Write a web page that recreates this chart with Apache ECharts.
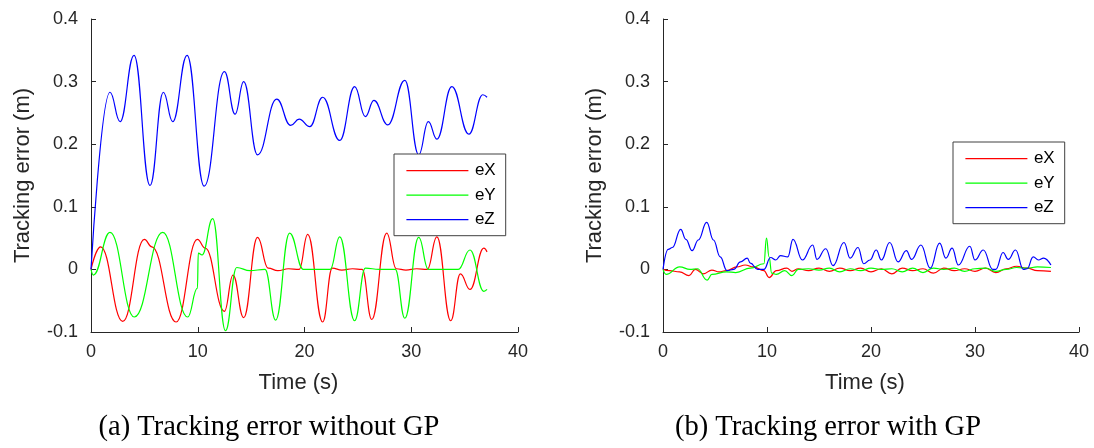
<!DOCTYPE html>
<html>
<head>
<meta charset="utf-8">
<script src="https://cdn.jsdelivr.net/npm/echarts@6/dist/echarts.min.js"></script>
<style>
  html, body { margin: 0; padding: 0; background: #fff; }
  #chart { width: 1094px; height: 448px; }
</style>
</head>
<body>
<div id="chart"></div>
<script>
// ---- (a) without GP ----
const tXa = [0, 0.9, 2.97, 5.0, 5.7, 7.97, 9.97, 10.7, 12.5, 13.3, 14.3, 15.6, 16.6, 17.5, 18.5, 19.5, 20.3, 21.7, 22.6, 23.5, 24.5, 25.4, 26.3, 27.7, 28.6, 29.5, 30.5, 31.5, 32.4, 33.7, 34.6, 35.5, 36.8, 37.1];
const eXa = [0, 0.036, -0.083, 0.048, 0.036, -0.084, 0.048, 0.034, -0.067, -0.009, -0.077, 0.051, 0.002, -0.002, 0.001, 0.0, 0.056, -0.084, 0.002, -0.001, 0.001, 0.0, -0.080, 0.058, 0.001, -0.001, 0.001, 0.0, 0.052, -0.082, -0.007, -0.032, 0.034, 0.028];

const tYa = [0, 0.22, 1.78, 4.06, 6.72, 9.06, 9.97, 10.05, 10.4, 11.4, 12.6, 13.65, 14.9, 16.3, 17.3, 18.6, 19.9, 21.0, 22.4, 23.3, 24.7, 25.7, 27.0, 28.5, 29.4, 30.7, 31.6, 33.0, 34.4, 35.5, 36.8, 37.1];
const eYa = [0, -0.009, 0.059, -0.076, 0.059, -0.076, -0.030, 0.026, 0.023, 0.081, -0.098, 0.003, -0.002, 0.0, -0.081, 0.058, 0.0, 0.0, 0.0, 0.052, -0.082, 0.002, 0.0, 0.0, -0.078, 0.051, 0.0, 0.0, 0.0, 0.031, -0.035, -0.032];

const tZa = [0, 1.78, 2.72, 4.03, 5.53, 6.78, 7.65, 9.0, 10.6, 12.5, 13.5, 14.3, 15.6, 17.4, 18.7, 19.5, 20.5, 21.7, 23.3, 24.7, 25.7, 26.5, 27.8, 29.4, 30.7, 31.6, 32.4, 33.8, 35.4, 36.7, 37.1];
const eZa = [0, 0.283, 0.236, 0.342, 0.134, 0.283, 0.236, 0.342, 0.133, 0.316, 0.248, 0.300, 0.183, 0.272, 0.230, 0.240, 0.228, 0.275, 0.206, 0.292, 0.244, 0.270, 0.231, 0.302, 0.183, 0.236, 0.208, 0.292, 0.216, 0.279, 0.275];

// ---- (b) with GP ----
const tXb = [0, 0.6, 1.6, 2.5, 3.1, 3.9, 4.7, 5.4, 6.1, 7.1, 7.9, 8.7, 9.7, 10.2, 10.9, 11.9, 12.4, 13.0, 14.0, 15.0, 16.0, 17.0, 18.0, 19.0, 20.0, 21.0, 22.0, 23.0, 24.0, 25.0, 26.0, 27.0, 28.0, 29.0, 30.0, 31.0, 32.0, 33.0, 34.0, 35.0, 36.0, 37.3];
const eXb = [0, -0.002, -0.004, -0.010, 0.0, -0.007, -0.001, -0.004, -0.002, 0.004, 0.007, 0.004, -0.002, -0.013, -0.002, 0.002, -0.003, 0.001, -0.002, 0.002, -0.003, 0.002, -0.002, 0.002, -0.004, 0.001, -0.007, 0.002, -0.002, 0.001, -0.006, 0.002, -0.002, 0.001, -0.003, 0.002, -0.005, 0.001, 0.005, 0.002, -0.002, -0.003];

const tYb = [0, 0.3, 1.6, 2.6, 3.3, 4.25, 4.7, 6.1, 7.0, 8.4, 9.7, 9.95, 10.2, 10.45, 10.9, 11.7, 12.4, 13.0, 14.0, 15.0, 16.0, 17.0, 18.0, 19.0, 20.0, 21.0, 22.0, 23.0, 24.0, 25.0, 26.0, 27.0, 28.0, 29.0, 30.0, 31.0, 32.0, 33.0, 34.0, 35.0, 36.0, 37.3];
const eYb = [0, -0.008, 0.004, 0.0, 0.001, -0.017, -0.008, -0.004, -0.005, 0.002, 0.009, 0.050, 0.020, -0.006, -0.008, -0.002, -0.010, 0.0, 0.001, -0.001, 0.002, -0.004, 0.001, -0.002, 0.002, 0.0, 0.001, -0.004, 0.002, -0.005, 0.002, 0.0, 0.002, -0.003, 0.001, 0.002, -0.003, 0.0, 0.003, 0.002, 0.004, 0.003];

const tZb = [0, 0.5, 0.9, 1.7, 2.2, 2.8, 3.4, 4.2, 4.85, 5.5, 6.15, 6.8, 7.45, 8.1, 8.4, 9.1, 9.7, 10.35, 10.85, 11.3, 12.0, 12.5, 13.4, 14.4, 14.8, 15.65, 16.35, 17.4, 18.0, 18.75, 19.3, 19.9, 20.5, 21.0, 21.8, 22.6, 23.4, 23.9, 24.8, 25.7, 26.6, 27.2, 27.8, 28.4, 29.5, 30.0, 30.8, 31.7, 32.0, 32.7, 33.2, 33.9, 34.65, 35.0, 35.6, 36.1, 36.6, 37.3];
const eZb = [0, 0.032, 0.035, 0.064, 0.048, 0.030, 0.047, 0.075, 0.047, 0.020, -0.002, 0.0, 0.012, 0.018, 0.010, 0.0, 0.0, 0.019, 0.015, 0.022, 0.020, 0.048, 0.015, 0.039, 0.016, 0.033, 0.006, 0.043, 0.018, 0.035, 0.009, 0.015, 0.031, 0.015, 0.043, 0.012, 0.030, 0.016, 0.039, 0.002, 0.042, 0.018, 0.034, 0.007, 0.037, 0.015, 0.031, 0.0, 0.0, 0.027, 0.016, 0.031, 0.0, 0.001, 0.020, 0.015, 0.018, 0.007];

const seriesNames = ['eX', 'eY', 'eZ'];
const seriesColors = ['#ff0000', '#00ff00', '#0000ff'];
const yTicks = [-0.1, 0, 0.1, 0.2, 0.3, 0.4];
const xTicks = [0, 10, 20, 30, 40];
const captions = ['(a) Tracking error without GP', '(b) Tracking error with GP'];

const AX = '#262626';
const SANS = 'Liberation Sans, Arial, sans-serif';

function pairs(t, v) { return t.map((x, i) => [x, v[i]]); }

function xAxisFor(gi) {
  return {
    type: 'value', gridIndex: gi, min: xTicks[0], max: xTicks[xTicks.length - 1], interval: 10,
    name: 'Time (s)', nameLocation: 'middle', nameGap: 40,
    nameTextStyle: { fontFamily: SANS, fontSize: 22, color: AX, padding: [0, 12, 0, 0] },
    axisLine: { show: true, onZero: false, lineStyle: { color: AX, width: 1 } },
    axisTick: { inside: true, length: 5, lineStyle: { color: AX } },
    axisLabel: { fontFamily: SANS, fontSize: 18, color: AX, margin: 11 },
    splitLine: { show: false }
  };
}
function yAxisFor(gi) {
  return {
    type: 'value', gridIndex: gi, min: yTicks[0], max: yTicks[yTicks.length - 1], interval: 0.1,
    name: 'Tracking error (m)', nameLocation: 'middle', nameGap: 57,
    nameTextStyle: { fontFamily: SANS, fontSize: 22, color: AX },
    axisLine: { show: true, onZero: false, lineStyle: { color: AX, width: 1 } },
    axisTick: { inside: true, length: 5, lineStyle: { color: AX } },
    axisLabel: {
      fontFamily: SANS, fontSize: 18, color: AX, margin: 13,
      formatter: v => String(parseFloat(v.toFixed(1)))
    },
    splitLine: { show: false }
  };
}
function lineSeries(name, color, gi, data) {
  return {
    type: 'line', name, xAxisIndex: gi, yAxisIndex: gi, data,
    symbol: 'none', smooth: 0.45, smoothMonotone: 'x',
    lineStyle: { color, width: 1.2 }, itemStyle: { color },
    silent: true, animation: false
  };
}
// Boxed legend with plain line samples, one row per series.
function legendAt(left, top) {
  return {
    left, top, orient: 'vertical', data: seriesNames, selectedMode: false,
    icon: 'rect', itemWidth: 62, itemHeight: 1.3, itemGap: 0,
    padding: [4.4, 10, 3.8, 12.4],
    backgroundColor: '#fff', borderColor: '#404040', borderWidth: 1,
    textStyle: { fontFamily: SANS, fontSize: 17, color: '#000', lineHeight: 24.5, padding: [0, 0, 0, 1.5] }
  };
}

const chart = echarts.init(document.getElementById('chart'), null, { renderer: 'canvas' });
chart.setOption({
  animation: false,
  backgroundColor: '#fff',
  grid: [
    { left: 91, top: 19, width: 427, height: 313 },
    { left: 663, top: 19, width: 416, height: 313 }
  ],
  xAxis: [xAxisFor(0), xAxisFor(1)],
  yAxis: [yAxisFor(0), yAxisFor(1)],
  legend: [legendAt(394, 154), legendAt(953, 142)],
  series: [
    lineSeries(seriesNames[0], seriesColors[0], 0, pairs(tXa, eXa)),
    lineSeries(seriesNames[1], seriesColors[1], 0, pairs(tYa, eYa)),
    lineSeries(seriesNames[2], seriesColors[2], 0, pairs(tZa, eZa)),
    lineSeries(seriesNames[0], seriesColors[0], 1, pairs(tXb, eXb)),
    lineSeries(seriesNames[1], seriesColors[1], 1, pairs(tYb, eYb)),
    lineSeries(seriesNames[2], seriesColors[2], 1, pairs(tZb, eZb))
  ],
  graphic: [
    { type: 'text', x: 269, y: 428, style: { text: captions[0], font: '28.5px "Liberation Serif", "Times New Roman", serif', fill: '#000', align: 'center', verticalAlign: 'middle' } },
    { type: 'text', x: 828, y: 428, style: { text: captions[1], font: '28.5px "Liberation Serif", "Times New Roman", serif', fill: '#000', align: 'center', verticalAlign: 'middle' } }
  ]
});
</script>
</body>
</html>
